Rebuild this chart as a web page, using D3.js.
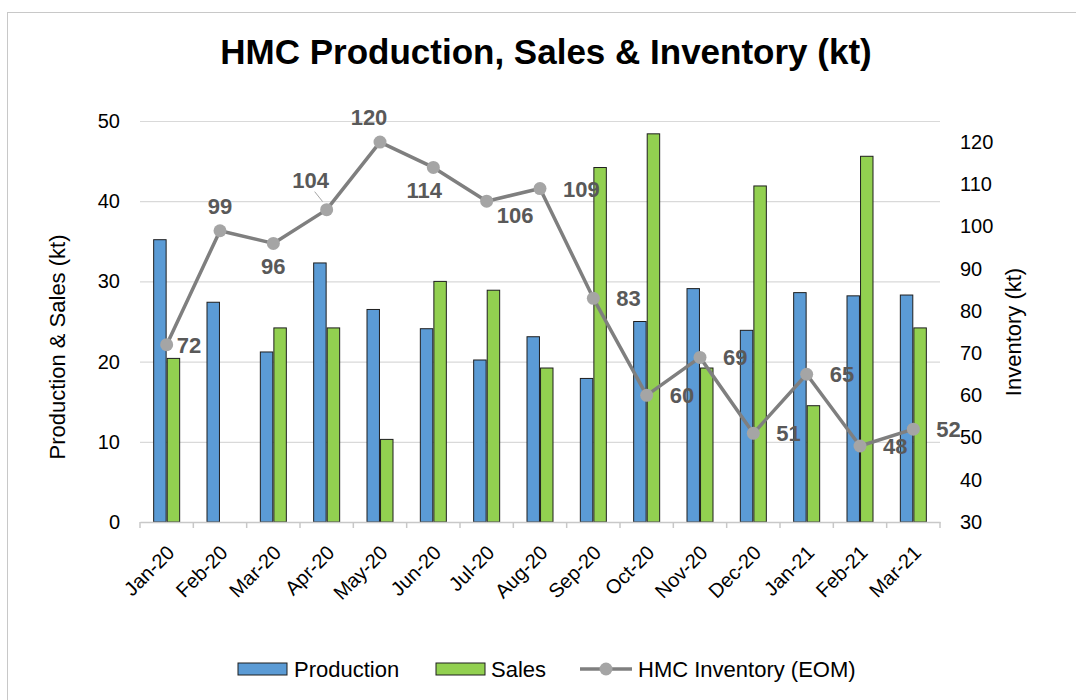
<!DOCTYPE html>
<html>
<head>
<meta charset="utf-8">
<script src="https://cdn.jsdelivr.net/npm/d3@7"></script>
<style>
  body { margin: 0; background: #fff; }
  text { font-family: "Liberation Sans", Arial, sans-serif; }
</style>
</head>
<body>
<svg id="chart" width="1076" height="700"></svg>
<script>
var months = ["Jan-20","Feb-20","Mar-20","Apr-20","May-20","Jun-20","Jul-20","Aug-20","Sep-20","Oct-20","Nov-20","Dec-20","Jan-21","Feb-21","Mar-21"];
var production = [35.2, 27.4, 21.2, 32.3, 26.5, 24.1, 20.2, 23.1, 17.9, 25.0, 29.1, 23.9, 28.6, 28.2, 28.3];
var sales = [20.4, 0, 24.2, 24.2, 10.3, 30.0, 28.9, 19.2, 44.2, 48.4, 19.2, 41.9, 14.5, 45.6, 24.2];
var inventory = [72, 99, 96, 104, 120, 114, 106, 109, 83, 60, 69, 51, 65, 48, 52];
var leftTicks = [0, 10, 20, 30, 40, 50];
var rightTicks = [30, 40, 50, 60, 70, 80, 90, 100, 110, 120];

// where each inventory label sits relative to its marker
var labelPlace = ["r","t","b","tl","t","b","br","r","r","r","r","r","r","r","r"];

var svg = d3.select("#chart"),
    margin = {top: 121, right: 136, bottom: 178, left: 140},
    width = +svg.attr("width") - margin.left - margin.right,
    height = +svg.attr("height") - margin.top - margin.bottom;

// outer chart frame
svg.append("rect")
    .attr("x", 7.5).attr("y", 12.5)
    .attr("width", 1100).attr("height", 750)
    .attr("fill", "none").attr("stroke", "#c8c8c8").attr("stroke-width", 1);

svg.append("text")
    .attr("x", 546).attr("y", 64)
    .attr("text-anchor", "middle")
    .attr("font-size", 35).attr("font-weight", "bold")
    .attr("fill", "#000")
    .text("HMC Production, Sales & Inventory (kt)");

var g = svg.append("g").attr("transform", "translate(" + margin.left + "," + margin.top + ")");

var x = d3.scaleBand().domain(months).range([0, width]);
var xs = d3.scaleBand().domain(["Production", "Sales"]).range([0, 26]).paddingInner(0.08);
var y = d3.scaleLinear().domain([0, 50]).range([height, 0]);
var y2 = d3.scaleLinear().domain([30, 125]).range([height, 0]);

// gridlines
g.append("g")
    .call(d3.axisLeft(y).tickValues(leftTicks).tickSize(-width).tickFormat(""))
    .call(function(a) {
      a.select(".domain").remove();
      a.selectAll(".tick line").attr("stroke", "#d9d9d9").attr("stroke-width", 1.2);
    });

// left axis labels
g.append("g")
    .call(d3.axisLeft(y).tickValues(leftTicks).tickSize(0).tickPadding(20))
    .call(function(a) {
      a.select(".domain").remove();
      a.selectAll(".tick text").attr("font-size", 20).attr("fill", "#000")
        .attr("font-family", "Liberation Sans, Arial, sans-serif");
    });

// right axis labels
g.append("g")
    .attr("transform", "translate(" + width + ",0)")
    .call(d3.axisRight(y2).tickValues(rightTicks).tickSize(0).tickPadding(20))
    .call(function(a) {
      a.select(".domain").remove();
      a.selectAll(".tick text").attr("font-size", 20).attr("fill", "#000")
        .attr("font-family", "Liberation Sans, Arial, sans-serif");
    });

// bars
var groups = g.selectAll(".month")
    .data(months)
  .enter().append("g")
    .attr("transform", function(d) { return "translate(" + (x(d) + x.bandwidth() / 2 - 13) + ",0)"; });

groups.each(function(m, i) {
  var vals = [{k: "Production", v: production[i], c: "#5b9bd5"}, {k: "Sales", v: sales[i], c: "#92d050"}];
  d3.select(this).selectAll("rect")
      .data(vals.filter(function(d) { return d.v > 0; }))
    .enter().append("rect")
      .attr("x", function(d) { return xs(d.k); })
      .attr("width", xs.bandwidth())
      .attr("y", function(d) { return y(d.v); })
      .attr("height", function(d) { return height - y(d.v); })
      .attr("fill", function(d) { return d.c; })
      .attr("stroke", "#1e1e1e").attr("stroke-width", 1);
});

// x axis
g.append("g")
    .attr("transform", "translate(0," + height + ")")
    .call(d3.axisBottom(x).tickSize(0).tickPadding(0))
    .call(function(a) {
      a.select(".domain").attr("stroke", "#c8c8c8").attr("stroke-width", 1.5);
      a.selectAll(".tick text")
        .attr("font-size", 20).attr("fill", "#000")
        .attr("font-family", "Liberation Sans, Arial, sans-serif")
        .attr("text-anchor", "end")
        .attr("dy", "0.35em")
        .attr("transform", "translate(4,27) rotate(-45)");
    });

// boundary tick marks
g.append("g")
    .selectAll("line")
    .data(months.concat(["end"]))
  .enter().append("line")
    .attr("x1", function(d, i) { return i * x.step(); })
    .attr("x2", function(d, i) { return i * x.step(); })
    .attr("y1", height).attr("y2", height + 6)
    .attr("stroke", "#c8c8c8").attr("stroke-width", 1.5);

// inventory line
var line = d3.line()
    .x(function(d, i) { return x(months[i]) + x.bandwidth() / 2; })
    .y(function(d) { return y2(d); });

g.append("path")
    .datum(inventory)
    .attr("fill", "none")
    .attr("stroke", "#7f7f7f")
    .attr("stroke-width", 3.5)
    .attr("stroke-linejoin", "round")
    .attr("d", line);

g.selectAll(".dot")
    .data(inventory)
  .enter().append("circle")
    .attr("cx", function(d, i) { return x(months[i]) + x.bandwidth() / 2; })
    .attr("cy", function(d) { return y2(d); })
    .attr("r", 6.5)
    .attr("fill", "#a5a5a5");

// leader line for the Apr label
g.append("line")
    .attr("x1", x(months[3]) + x.bandwidth() / 2 - 4).attr("y1", y2(inventory[3]) - 8)
    .attr("x2", x(months[3]) + x.bandwidth() / 2 - 12).attr("y2", y2(inventory[3]) - 18)
    .attr("stroke", "#a5a5a5").attr("stroke-width", 1);

var offs = {
  r:  {dx: 23, dy: 8, a: "start"},
  t:  {dx: 0, dy: -17, a: "middle"},
  b:  {dx: 0, dy: 31, a: "middle"},
  tl: {dx: -16, dy: -22, a: "middle"},
  br: {dx: 10, dy: 22, a: "start"}
};

g.selectAll(".lbl")
    .data(inventory)
  .enter().append("text")
    .attr("x", function(d, i) {
      var o = offs[labelPlace[i]], cx = x(months[i]) + x.bandwidth() / 2;
      if (i === 0) return cx + 10;
      if (labelPlace[i] === "t" && i === 4) return cx - 11;
      if (labelPlace[i] === "b" && i === 5) return cx - 9;
      return cx + o.dx;
    })
    .attr("y", function(d, i) { return y2(d) + offs[labelPlace[i]].dy; })
    .attr("text-anchor", function(d, i) { return offs[labelPlace[i]].a; })
    .attr("font-size", 22).attr("font-weight", "bold")
    .attr("fill", "#595959")
    .text(function(d) { return d; });

// axis titles
svg.append("text")
    .attr("transform", "translate(65,347) rotate(-90)")
    .attr("text-anchor", "middle")
    .attr("font-size", 22).attr("fill", "#000")
    .text("Production & Sales (kt)");

svg.append("text")
    .attr("transform", "translate(1021,332) rotate(-90)")
    .attr("text-anchor", "middle")
    .attr("font-size", 22).attr("fill", "#000")
    .text("Inventory (kt)");

// legend
var legend = svg.append("g").attr("transform", "translate(0,669)");
legend.append("rect").attr("x", 238).attr("y", -6).attr("width", 49).attr("height", 12)
    .attr("fill", "#5b9bd5").attr("stroke", "#1e1e1e");
legend.append("text").attr("x", 294).attr("y", 8).attr("font-size", 22).text("Production");
legend.append("rect").attr("x", 436).attr("y", -6).attr("width", 49).attr("height", 12)
    .attr("fill", "#92d050").attr("stroke", "#1e1e1e");
legend.append("text").attr("x", 491).attr("y", 8).attr("font-size", 22).text("Sales");
legend.append("line").attr("x1", 580).attr("x2", 632).attr("y1", 0).attr("y2", 0)
    .attr("stroke", "#7f7f7f").attr("stroke-width", 3.5);
legend.append("circle").attr("cx", 606).attr("cy", 0).attr("r", 6.5).attr("fill", "#a5a5a5");
legend.append("text").attr("x", 638).attr("y", 8).attr("font-size", 22).text("HMC Inventory (EOM)");
</script>
</body>
</html>
